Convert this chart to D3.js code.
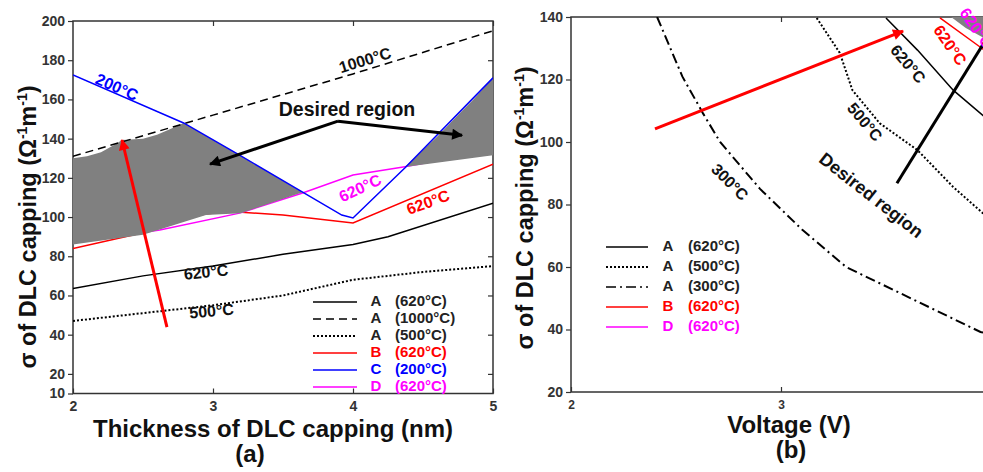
<!DOCTYPE html>
<html>
<head>
<meta charset="utf-8">
<script src="https://cdn.jsdelivr.net/npm/d3@7"></script>
<style>
  body { margin: 0; background: #fff; }
  svg { display: block; font-family: "Liberation Sans", Arial, sans-serif; font-weight: bold; }
</style>
</head>
<body>
<div id="chart"></div>
<script>
/**
 * DATA
 * */
// panel (a): sigma vs thickness (nm)
const aYTicks = [10, 20, 40, 60, 80, 100, 120, 140, 160, 180, 200];
const aXTicks = [2, 3, 4, 5];
const a620 = [[2, 63.5], [2.5, 70], [3, 75], [3.5, 81], [4, 86], [4.25, 90], [5, 107]];
const a1000 = [[2, 131], [3, 152], [4, 173], [5, 195]];
const a500 = [[2, 47], [2.5, 51], [3, 55], [3.5, 60], [4, 68], [4.5, 72], [5, 75]];
const b620 = [[2, 84], [2.5, 92], [2.9, 101], [3.1, 103], [3.5, 101], [4, 97], [5, 127]];
const c200 = [[2, 172.5], [2.79, 148], [3.19, 131.6], [3.64, 112.7], [3.92, 101], [4, 99.5], [4.37, 125], [5, 171]];
const d620 = [[2, 87], [2.62, 93.4], [3.19, 102], [3.64, 112.3], [4, 121.4], [4.37, 125.7], [5, 134]];
const shadeLeft = [[2, 130], [2.1, 131], [2.2, 133], [2.3, 137], [2.35, 139.3], [2.5, 140], [2.6, 142], [2.7, 145],
                   [2.79, 148], [3.19, 131.6], [3.64, 112.7], [3.2, 102], [2.95, 101], [2.5, 91], [2, 86]];
const shadeRight = [[4.37, 125.5], [4.6, 141], [4.75, 152], [4.86, 160], [5, 171], [5, 131.5]];

// panel (b): sigma vs voltage (V)
const bYTicks = [20, 40, 60, 80, 100, 120, 140];
const bXTicks = [2, 3];
const v620 = [[3.5, 139.7], [3.65, 129.4], [3.82, 116.6], [3.96, 108.6], [4, 106.3]];
const v500 = [[3.17, 139.7], [3.28, 128.5], [3.34, 116.6], [3.47, 106], [3.65, 97.4], [3.82, 85.6], [3.96, 77.3], [4, 75]];
const v300 = [[2.41, 140], [2.53, 121], [2.63, 109], [2.71, 100], [2.9, 85], [3.1, 72], [3.31, 60], [3.95, 39.2], [4, 38.5]];
const vB620 = [[3.757, 139.7], [3.948, 130.4], [4, 127.9]];
const shadeB = [[3.81, 140], [4, 140], [4, 132], [3.88, 136.5]];

const legendA = [
  { k: "A", t: "(620°C)", c: "#000", dash: null },
  { k: "A", t: "(1000°C)", c: "#000", dash: "8,5" },
  { k: "A", t: "(500°C)", c: "#000", dash: "2,2" },
  { k: "B", t: "(620°C)", c: "#ff0000", dash: null },
  { k: "C", t: "(200°C)", c: "#0000ff", dash: null },
  { k: "D", t: "(620°C)", c: "#ff00ff", dash: null },
];
const legendB = [
  { k: "A", t: "(620°C)", c: "#000", dash: null },
  { k: "A", t: "(500°C)", c: "#000", dash: "2,2" },
  { k: "A", t: "(300°C)", c: "#000", dash: "10,4,2,4" },
  { k: "B", t: "(620°C)", c: "#ff0000", dash: null },
  { k: "D", t: "(620°C)", c: "#ff00ff", dash: null },
];

/**
 * SETUP
 * */
const width = 983, height = 472;
const svg = d3.select("#chart").append("svg").attr("width", width).attr("height", height);

const defs = svg.append("defs");
["red", "black"].forEach(c => {
  defs.append("marker")
    .attr("id", "head-" + c)
    .attr("viewBox", "0 0 10 10")
    .attr("refX", 9).attr("refY", 5)
    .attr("markerUnits", "userSpaceOnUse")
    .attr("markerWidth", 13).attr("markerHeight", 11)
    .attr("orient", "auto")
    .append("path").attr("d", "M0,0 L10,5 L0,10 Z").attr("fill", c === "red" ? "#ff0000" : "#000");
});

const xA = d3.scaleLinear([2, 5], [73, 493]);
const yA = d3.scaleLinear([10, 200], [393.5, 21]);
const xB = d3.scaleLinear([2, 4], [571, 991]);
const yB = d3.scaleLinear([20, 140], [392, 17]);

function panel(id, x, y, xt, yt, xFont) {
  const [x0, x1] = x.range(), [y0, y1] = y.range();
  defs.append("clipPath").attr("id", id).append("rect")
    .attr("x", x0).attr("y", y1).attr("width", x1 - x0).attr("height", y0 - y1);
  const g = svg.append("g");
  // left ticks (outward)
  g.append("g").attr("transform", `translate(${x0},0)`)
    .call(d3.axisLeft(y).tickValues(yt).tickSize(5).tickPadding(3).tickFormat(d3.format("d")));
  // bottom ticks (inward)
  const bx = g.append("g").attr("transform", `translate(0,${y0})`)
    .call(d3.axisBottom(x).tickValues(xt).tickSizeInner(-5).tickSizeOuter(0).tickPadding(8).tickFormat(d3.format("d")));
  // top / right inward ticks
  g.append("g").attr("transform", `translate(0,${y1})`)
    .call(d3.axisTop(x).tickValues(xt.slice(1)).tickSize(-5).tickFormat(""));
  g.append("g").attr("transform", `translate(${x1},0)`)
    .call(d3.axisRight(y).tickValues(yt.slice(1, -1)).tickSize(-5).tickFormat(""));
  g.selectAll(".domain").remove();
  g.selectAll(".tick line").attr("stroke", "#333").attr("stroke-width", 1.2);
  g.selectAll("text").attr("fill", "#333").style("font-size", "14px").style("font-weight", "bold")
    .style("font-family", '"Liberation Sans", Arial, sans-serif');
  bx.selectAll("text").style("font-size", xFont + "px");
  // frame
  g.append("rect").attr("x", x0).attr("y", y1).attr("width", x1 - x0).attr("height", y0 - y1)
    .attr("fill", "none").attr("stroke", "#333").attr("stroke-width", 1.5);
  return svg.append("g").attr("clip-path", `url(#${id})`);
}

function drawLine(g, x, y, pts, color, dash, w) {
  g.append("path")
    .attr("d", d3.line().x(d => x(d[0])).y(d => y(d[1]))(pts))
    .attr("fill", "none").attr("stroke", color).attr("stroke-width", w || 1.5)
    .attr("stroke-dasharray", dash);
}
function drawShade(g, x, y, pts) {
  g.append("path")
    .attr("d", d3.line().x(d => x(d[0])).y(d => y(d[1]))(pts) + "Z")
    .attr("fill", "#808080");
}
function label(g, x, y, px, py, txt, color, size, rot) {
  g.append("text")
    .attr("transform", `translate(${x(px)},${y(py)}) rotate(${rot})`)
    .attr("text-anchor", "middle").attr("dy", "0.35em")
    .attr("fill", color).style("font-size", size + "px")
    .text(txt);
}
function arrow(g, x, y, p0, p1, color, w) {
  g.append("line")
    .attr("x1", x(p0[0])).attr("y1", y(p0[1])).attr("x2", x(p1[0])).attr("y2", y(p1[1]))
    .attr("stroke", color === "red" ? "#ff0000" : "#000").attr("stroke-width", w)
    .attr("marker-end", `url(#head-${color})`);
}
function legend(items, lx0, lx1, kx, tx, y0, dy) {
  const lg = svg.append("g");
  items.forEach((d, i) => {
    const yy = y0 + i * dy;
    lg.append("line").attr("x1", lx0).attr("x2", lx1).attr("y1", yy).attr("y2", yy)
      .attr("stroke", d.c).attr("stroke-width", d.dash === "2,2" ? 2 : 1.5).attr("stroke-dasharray", d.dash);
    lg.append("text").attr("x", kx).attr("y", yy - 1).attr("text-anchor", "middle").attr("dy", "0.35em")
      .attr("fill", d.c === "#000" ? "#222" : d.c).style("font-size", "15px").text(d.k);
    lg.append("text").attr("x", tx).attr("y", yy - 1).attr("dy", "0.35em")
      .attr("fill", d.c === "#000" ? "#222" : d.c).style("font-size", "15px").text(d.t);
  });
}
function yTitle(cx, cy) {
  const t = svg.append("text")
    .attr("transform", `translate(${cx},${cy}) rotate(-90)`)
    .attr("text-anchor", "middle").attr("fill", "#111").style("font-size", "23.5px");
  t.append("tspan").text("σ of DLC capping (Ω");
  t.append("tspan").attr("dy", -9).style("font-size", "14px").text("-1");
  t.append("tspan").attr("dy", 9).text("m");
  t.append("tspan").attr("dy", -9).style("font-size", "14px").text("-1");
  t.append("tspan").attr("dy", 9).text(")");
}

/**
 * PANEL (a)
 * */
const pa = panel("clipA", xA, yA, aXTicks, aYTicks, 14);
drawLine(pa, xA, yA, a620, "#000");
drawLine(pa, xA, yA, a500, "#000", "2,2", 2);
drawLine(pa, xA, yA, b620, "#ff0000");
drawLine(pa, xA, yA, d620, "#ff00ff");
drawShade(pa, xA, yA, shadeLeft);
drawShade(pa, xA, yA, shadeRight);
drawLine(pa, xA, yA, a1000, "#000", "8,5");
drawLine(pa, xA, yA, c200, "#0000ff");

label(svg, xA, yA, 2.314, 166.3, "200°C", "#0000ff", 16, 24);
label(svg, xA, yA, 4.086, 180.1, "1000°C", "#111", 16, -17);
label(svg, xA, yA, 3.957, 154.8, "Desired region", "#111", 19.5, 0);
label(svg, xA, yA, 4.05, 114.8, "620°C", "#ff00ff", 16, -25);
label(svg, xA, yA, 4.536, 107.6, "620°C", "#ff0000", 16, -20);
label(svg, xA, yA, 2.95, 72, "620°C", "#111", 16, -6);
label(svg, xA, yA, 2.99, 52.1, "500°C", "#111", 16, -5);
arrow(svg, xA, yA, [3.893, 148.9], [2.979, 127], "black", 3);
arrow(svg, xA, yA, [3.893, 148.9], [4.779, 141.7], "black", 3);
arrow(svg, xA, yA, [2.671, 43.9], [2.35, 139.3], "red", 3);
legend(legendA, 313, 357, 376, 395, 302, 17);

yTitle(36, 227);
svg.append("text").attr("x", 273).attr("y", 437).attr("text-anchor", "middle")
  .attr("fill", "#111").style("font-size", "24px").text("Thickness of DLC capping (nm)");
svg.append("text").attr("x", 250).attr("y", 462).attr("text-anchor", "middle")
  .attr("fill", "#111").style("font-size", "24px").text("(a)");

/**
 * PANEL (b)
 * */
const pb = panel("clipB", xB, yB, bXTicks, bYTicks, 12);
drawShade(pb, xB, yB, shadeB);
drawLine(pb, xB, yB, v620, "#000");
drawLine(pb, xB, yB, v500, "#000", "2,2", 2);
drawLine(pb, xB, yB, v300, "#000", "10,4,2,4", 2);
drawLine(pb, xB, yB, vB620, "#ff0000");

label(svg, xB, yB, 2.757, 87.2, "300°C", "#111", 16, 45);
label(svg, xB, yB, 3.4, 106.4, "500°C", "#111", 16, 50);
label(svg, xB, yB, 3.605, 125, "620°C", "#111", 16, 50);
label(svg, xB, yB, 3.805, 131, "620°C", "#ff0000", 16, 55);
label(svg, xB, yB, 3.93, 136.5, "620°C", "#ff00ff", 16, 55);
label(svg, xB, yB, 3.43, 83, "Desired region", "#111", 18, 38);
arrow(svg, xB, yB, [2.4, 104.2], [3.581, 135.5], "red", 3);
pb.append("line")
  .attr("x1", xB(3.552)).attr("y1", yB(86.8)).attr("x2", xB(4.043)).attr("y2", yB(140))
  .attr("stroke", "#000").attr("stroke-width", 3);
legend(legendB, 606, 648, 668, 688, 247, 20);

yTitle(533, 208);
svg.append("text").attr("x", 789).attr("y", 433).attr("text-anchor", "middle")
  .attr("fill", "#111").style("font-size", "24px").text("Voltage (V)");
svg.append("text").attr("x", 791).attr("y", 458).attr("text-anchor", "middle")
  .attr("fill", "#111").style("font-size", "24px").text("(b)");
</script>
</body>
</html>
